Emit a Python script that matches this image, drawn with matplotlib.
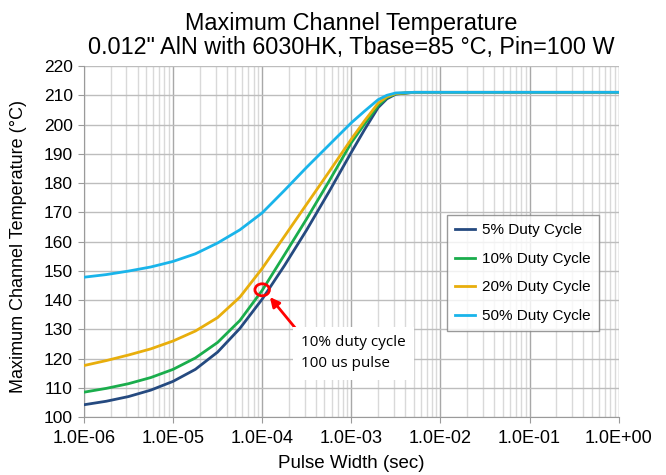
import matplotlib
matplotlib.use("Agg")
import matplotlib.pyplot as plt
from matplotlib.patches import Ellipse
from matplotlib.ticker import FixedLocator, LogLocator, FuncFormatter
from matplotlib.transforms import ScaledTranslation

plt.rcParams['font.family'] = ['Liberation Sans', 'DejaVu Sans']

pulse_width = [1.0e-6, 1.78e-6, 3.16e-6, 5.62e-6, 1.0e-5, 1.78e-5, 3.16e-5, 5.62e-5,
               1.0e-4, 1.78e-4, 3.16e-4, 5.62e-4, 1.0e-3, 1.41e-3, 2.0e-3, 2.51e-3,
               3.16e-3, 5.0e-3, 1.0e-2, 1.0e-1, 1.0e0]
duty5 = [104.2, 105.4, 107.0, 109.2, 112.2, 116.3, 122.2, 130.3,
         140.3, 151.8, 164.0, 177.0, 190.5, 198.3, 205.8, 208.8,
         210.4, 211.0, 211.0, 211.0, 211.0]
duty10 = [108.5, 109.8, 111.4, 113.5, 116.3, 120.2, 125.5, 133.0,
          143.3, 155.5, 167.8, 180.6, 193.8, 200.2, 206.5, 209.2,
          210.5, 211.0, 211.0, 211.0, 211.0]
duty20 = [117.6, 119.3, 121.2, 123.3, 126.0, 129.4, 134.0, 141.0,
          150.8, 161.8, 172.8, 183.8, 195.0, 201.3, 207.3, 209.5,
          210.6, 211.0, 211.0, 211.0, 211.0]
duty50 = [147.8, 148.7, 149.9, 151.3, 153.2, 155.8, 159.5, 164.0,
          169.8, 177.5, 185.4, 193.0, 200.6, 204.6, 208.5, 210.0,
          210.8, 211.0, 211.0, 211.0, 211.0]

x_ticks = [1e-6, 1e-5, 1e-4, 1e-3, 1e-2, 1e-1, 1e0]
x_tick_labels = ["1.0E-06", "1.0E-05", "1.0E-04", "1.0E-03", "1.0E-02", "1.0E-01", "1.0E+00"]
y_ticks = [100, 110, 120, 130, 140, 150, 160, 170, 180, 190, 200, 210, 220]

series = [("5% Duty Cycle", duty5, "#254a80"),
          ("10% Duty Cycle", duty10, "#1aad4c"),
          ("20% Duty Cycle", duty20, "#e8ae0c"),
          ("50% Duty Cycle", duty50, "#19b4ea")]

fig = plt.figure(figsize=(6.66, 4.75), dpi=100)
ax = fig.add_axes([0.126, 0.122, 0.803, 0.739])

for label, vals, color in series:
    ax.plot(pulse_width, vals, color=color, lw=2.0, label=label, zorder=3,
            solid_joinstyle='round')

ax.set_xscale('log')
ax.set_xlim(1e-6, 1e0)
ax.set_ylim(100, 220)
ax.xaxis.set_major_locator(FixedLocator(x_ticks))
ax.set_xticklabels(x_tick_labels)
ax.xaxis.set_minor_locator(LogLocator(base=10, subs=range(2, 10), numticks=100))
ax.xaxis.set_minor_formatter(FuncFormatter(lambda v, p: ""))
ax.yaxis.set_major_locator(FixedLocator(y_ticks))

ax.grid(True, which='major', axis='y', color='#bdbdbd', lw=1.0, zorder=0)
ax.grid(True, which='major', axis='x', color='#a8a8a8', lw=1.0, zorder=0)
ax.grid(True, which='minor', axis='x', color='#d9d9d9', lw=1.0, zorder=0)
for s in ['top', 'right']:
    ax.spines[s].set_visible(False)
for s in ['left', 'bottom']:
    ax.spines[s].set_color('#9a9a9a')
ax.tick_params(axis='x', which='major', labelsize=13, color='#9a9a9a', length=4, pad=5)
ax.tick_params(axis='x', which='minor', length=0)
ax.tick_params(axis='y', labelsize=12.5, color='#9a9a9a', length=4, pad=4)

ax.set_title('Maximum Channel Temperature\n0.012" AlN with 6030HK, Tbase=85 °C, Pin=100 W',
             fontsize=16.8, linespacing=1.05, pad=9)
ax.set_xlabel('Pulse Width (sec)', fontsize=13.5)
ax.xaxis.set_label_coords(0.5, -0.108)
ax.set_ylabel('Maximum Channel Temperature (°C)', fontsize=13)
ax.yaxis.set_label_coords(-0.106, 0.487)

leg = ax.legend(loc='upper left', bbox_to_anchor=(0.6785, 0.5755), borderaxespad=0,
                fontsize=11, frameon=True, fancybox=False, edgecolor='#808080',
                handlelength=1.3, handletextpad=0.45, labelspacing=0.95,
                borderpad=0.55)
leg.get_frame().set_linewidth(1.0)

ell = Ellipse((0, 0), width=0.145, height=0.12, fill=False, edgecolor='#ff0000',
              lw=2, zorder=5,
              transform=fig.dpi_scale_trans + ScaledTranslation(1.0e-4, 143.5, ax.transData))
ax.add_patch(ell)

ax.annotate('', xy=(1.22e-4, 141.0), xytext=(2.65e-4, 128.5),
            arrowprops=dict(arrowstyle='-|>', color='#ff0000', lw=2,
                            mutation_scale=14, shrinkA=0, shrinkB=0), zorder=6)
ax.text(2.72e-4, 121.8, '10% duty cycle\n100 us pulse', fontsize=11,
        family=['Open Sans', 'DejaVu Sans'], va='center', ha='left',
        linespacing=1.55, zorder=6,
        bbox=dict(facecolor='white', edgecolor='none', pad=6))

fig.savefig('out.png', dpi=100)
